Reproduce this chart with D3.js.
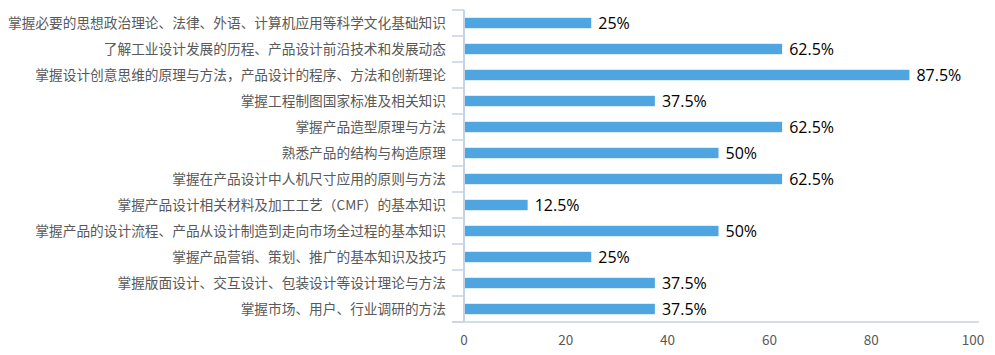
<!DOCTYPE html>
<html><head><meta charset="utf-8">
<script src="https://cdn.jsdelivr.net/npm/d3@7"></script>
<style>body{margin:0;background:#fff;} svg{display:block;}</style>
</head><body>
<svg id="c" width="995" height="355"></svg>
<script>
const categories = [
  "掌握必要的思想政治理论、法律、外语、计算机应用等科学文化基础知识",
  "了解工业设计发展的历程、产品设计前沿技术和发展动态",
  "掌握设计创意思维的原理与方法，产品设计的程序、方法和创新理论",
  "掌握工程制图国家标准及相关知识",
  "掌握产品造型原理与方法",
  "熟悉产品的结构与构造原理",
  "掌握在产品设计中人机尺寸应用的原则与方法",
  "掌握产品设计相关材料及加工工艺（CMF）的基本知识",
  "掌握产品的设计流程、产品从设计制造到走向市场全过程的基本知识",
  "掌握产品营销、策划、推广的基本知识及技巧",
  "掌握版面设计、交互设计、包装设计等设计理论与方法",
  "掌握市场、用户、行业调研的方法"
];
const values = [25, 62.5, 87.5, 37.5, 62.5, 50, 62.5, 12.5, 50, 25, 37.5, 37.5];
const xTicks = [0, 20, 40, 60, 80, 100];

const svg = d3.select("#c");
const font = "'Microsoft YaHei','Noto Sans CJK SC',sans-serif";
const x = d3.scaleLinear().domain([0, 100]).range([464, 973]);
const y = d3.scaleBand().domain(categories).range([10, 322]).paddingInner(0.6).paddingOuter(0.3);
const axisColor = "#c5d3e6";

// bars
svg.selectAll("rect.bar").data(values).join("rect")
  .attr("x", x(0))
  .attr("y", (d,i) => y(categories[i]))
  .attr("width", d => x(d) - x(0))
  .attr("height", y.bandwidth())
  .attr("fill", "#4ea5e0");

// value labels
svg.selectAll("text.val").data(values).join("text")
  .attr("x", d => x(d) + 7)
  .attr("y", (d,i) => y(categories[i]) + y.bandwidth()/2)
  .attr("dy", "0.38em")
  .attr("font-family", "'Open Sans','Noto Sans',sans-serif").attr("font-size", 16).attr("fill", "#000")
  .text(d => d + "%");

// y axis
const yTop = 10, yBot = 322;
svg.append("line").attr("x1", x(0)).attr("x2", x(0)).attr("y1", yTop).attr("y2", yBot)
  .attr("stroke", axisColor).attr("stroke-width", 2);
svg.selectAll("line.ytick").data(d3.range(categories.length + 1)).join("line")
  .attr("x1", 452).attr("x2", x(0))
  .attr("y1", i => yTop + i * (yBot - yTop) / categories.length)
  .attr("y2", i => yTop + i * (yBot - yTop) / categories.length)
  .attr("stroke", axisColor).attr("stroke-width", 1.5);
svg.selectAll("text.cat").data(categories).join("text")
  .attr("x", 446)
  .attr("y", d => y(d) + y.bandwidth()/2)
  .attr("dy", "0.36em")
  .attr("text-anchor", "end")
  .attr("font-family", font).attr("font-size", 13.7).attr("fill", "#595959")
  .text(d => d);

// x axis
svg.append("line").attr("x1", 452).attr("x2", 979).attr("y1", yBot).attr("y2", yBot)
  .attr("stroke", axisColor).attr("stroke-width", 1.5);
svg.selectAll("text.xt").data(xTicks).join("text")
  .attr("x", d => x(d))
  .attr("y", 345)
  .attr("text-anchor", "middle")
  .attr("font-family", font).attr("font-size", 13.5).attr("fill", "#595959")
  .text(d => d);
</script>
</body></html>
